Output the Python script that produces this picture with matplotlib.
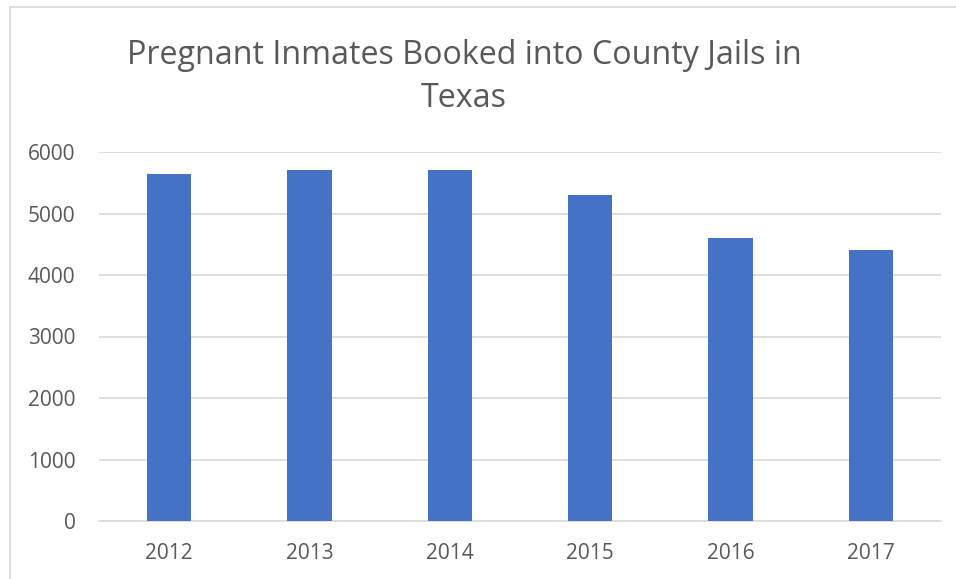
import matplotlib
matplotlib.use("Agg")
import matplotlib.pyplot as plt
from matplotlib.patches import Rectangle

years = ["2012", "2013", "2014", "2015", "2016", "2017"]
inmates = [5650, 5700, 5700, 5300, 4600, 4400]
y_ticks = [0, 1000, 2000, 3000, 4000, 5000, 6000]

text_col = "#595959"
grid_col = "#d9d9d9"
bar_col = "#4472c4"

plt.rcParams["font.family"] = ["Open Sans", "DejaVu Sans"]

fig = plt.figure(figsize=(9.56, 5.79), dpi=100)
# chart frame (right and bottom edges fall outside the picture)
fig.patches.append(Rectangle((10 / 956, -0.2), 1.2, 1.2 - 7 / 579, transform=fig.transFigure,
                             fill=False, edgecolor=grid_col, linewidth=1.2))

ax = fig.add_axes([99 / 956, 1 - 521 / 579, 842 / 956, 369 / 579])
x = range(len(years))
ax.bar(x, inmates, width=0.314, color=bar_col, zorder=3)

ax.set_xlim(-0.5, len(years) - 0.5)
ax.set_ylim(0, 6000)
ax.set_yticks(y_ticks)
ax.set_xticks(list(x))
ax.set_xticklabels(years)
ax.grid(axis="y", color=grid_col, linewidth=1.2, zorder=0)
ax.tick_params(length=0, labelsize=15, colors=text_col)
ax.tick_params(axis="y", pad=17)
ax.tick_params(axis="x", pad=16)
for s in ax.spines.values():
    s.set_visible(False)
ax.spines["bottom"].set_visible(True)
ax.spines["bottom"].set_color(grid_col)
ax.spines["bottom"].set_linewidth(1.2)

fig.text(464 / 956, 1 - 55 / 579, "Pregnant Inmates Booked into County Jails in",
         ha="center", va="center", fontsize=23.2, color=text_col)
fig.text(464 / 956, 1 - 99 / 579, "Texas",
         ha="center", va="center", fontsize=23.2, color=text_col)

fig.savefig("out.png", dpi=100)
